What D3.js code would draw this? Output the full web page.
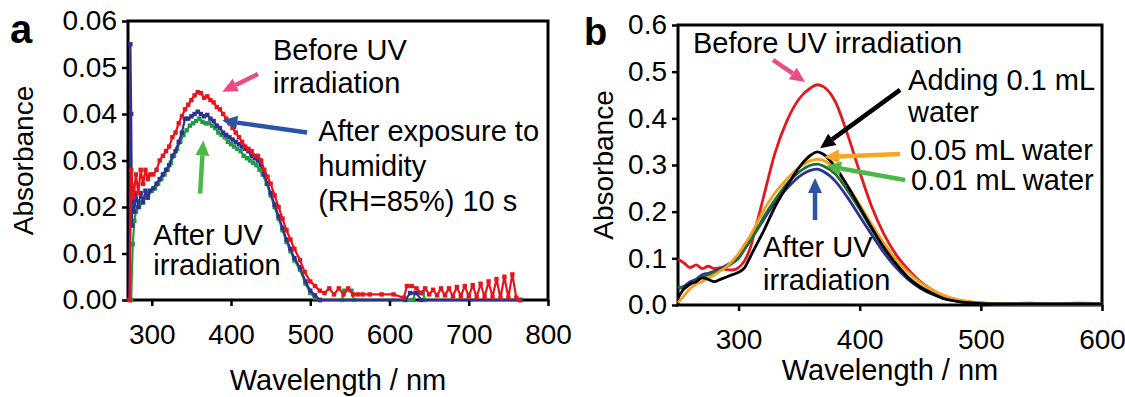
<!DOCTYPE html>
<html>
<head>
<meta charset="utf-8">
<script src="https://cdn.jsdelivr.net/npm/d3@7"></script>
<style>
  body { margin: 0; background: #fff; }
  text { font-family: "Liberation Sans", Arial, sans-serif; }
</style>
</head>
<body>
<svg id="chart" width="1125" height="397"></svg>
<script>
// ---- panel a data (wavelength nm / absorbance) ----
const aRedNm = [272,274,277,280,283,286,289,292,295,298,302,306,310,314,318,322,326,330,334,338,342,346,350,354,358,362,366,370,374,378,382,386,390,394,398,402,406,410,414,418,422,426,430,434,438,442,446,450,455,460,465,470,475,480,487,493,500,506,512,518,524,530,536,542,548,554,560,566,575,590,605,618,622,628,634,640,645,650,655,660,665,670,675,680,685,690,695,700,705,710,715,720,725,730,735,740,745,750,755,760,764];
const aRedAbs = [0,0.028,0.022,0.027,0.023,0.028,0.025,0.028,0.026,0.027,0.027,0.028,0.030,0.031,0.032,0.033,0.035,0.036,0.038,0.0395,0.041,0.042,0.043,0.044,0.0447,0.0445,0.0435,0.0438,0.043,0.0425,0.0415,0.041,0.040,0.039,0.038,0.037,0.036,0.035,0.034,0.033,0.0325,0.032,0.031,0.031,0.030,0.028,0.0265,0.025,0.0225,0.020,0.0175,0.015,0.013,0.011,0.0086,0.006,0.004,0.003,0.002,0.0015,0.0025,0.0012,0.0025,0.0012,0.0025,0.0012,0.0012,0.0012,0.0012,0.0012,0.0012,0.0005,0.003,0.003,0.0025,0.0015,0.0025,0.0012,0.0022,0.001,0.0025,0.001,0.0025,0.0008,0.0028,0.0008,0.003,0.0008,0.0032,0.0006,0.0035,0.0006,0.004,0.0006,0.0045,0.0005,0.005,0.0005,0.0055,0.0005,0];

const aBlueNm = [272,273,274,275,276,278,280,283,286,289,292,295,298,302,306,310,314,318,322,326,330,334,338,342,346,350,354,358,362,366,370,374,378,382,386,390,394,398,402,406,410,414,418,422,426,430,434,438,442,446,450,455,460,465,470,475,480,487,494,500,506,512,620,626,634,640,765];
const aBlueAbs = [0,0.055,0.040,0.016,0.024,0.019,0.023,0.020,0.023,0.021,0.0235,0.022,0.0235,0.024,0.025,0.026,0.027,0.028,0.029,0.031,0.032,0.034,0.036,0.039,0.039,0.0395,0.040,0.0405,0.040,0.0395,0.0398,0.039,0.0385,0.0375,0.037,0.036,0.0355,0.035,0.0345,0.034,0.0335,0.033,0.0325,0.032,0.031,0.0305,0.030,0.029,0.027,0.025,0.023,0.0205,0.018,0.0155,0.013,0.011,0.009,0.007,0.004,0.002,0.001,0,0,0.0015,0.0015,0,0];

const aGreenNm = [274,276,278,280,284,288,292,296,300,304,308,312,316,320,324,328,332,336,340,344,348,352,356,360,364,368,372,376,380,384,388,392,396,400,404,408,412,416,420,424,428,432,436,440,445,450,455,460,465,470,475,480,487,494,500,506,512,540,543,552,555,630,632,642,645,765];
const aGreenAbs = [0,0.012,0.017,0.019,0.020,0.021,0.022,0.023,0.0235,0.024,0.025,0.026,0.027,0.028,0.0295,0.031,0.0325,0.034,0.0355,0.0365,0.0375,0.038,0.0385,0.039,0.0383,0.038,0.038,0.0375,0.037,0.036,0.0355,0.035,0.034,0.0335,0.033,0.0325,0.032,0.031,0.0305,0.030,0.0295,0.029,0.028,0.027,0.025,0.0225,0.020,0.0175,0.015,0.0125,0.0105,0.0085,0.0065,0.0035,0.0015,0.0005,0,0,0.002,0.002,0,0,0.0015,0.0015,0,0];

const aXTicks = [300,400,500,600,700,800];
const aYTicks = [0,0.01,0.02,0.03,0.04,0.05,0.06];

// ---- panel b data ----
const bNm = [250,255,260,265,270,275,280,285,290,295,300,305,310,315,320,330,340,350,360,365,370,380,390,400,410,420,430,440,450,460,470,480,490,500,520,540,560,580,600];
const bBefore = [0.098,0.090,0.080,0.086,0.078,0.083,0.078,0.080,0.076,0.075,0.080,0.095,0.125,0.175,0.225,0.325,0.395,0.442,0.466,0.472,0.468,0.435,0.365,0.285,0.21,0.152,0.108,0.076,0.05,0.032,0.019,0.011,0.007,0.004,0.003,0.002,0.002,0.002,0.002];
const bAfterUV = [0.035,0.040,0.050,0.055,0.065,0.068,0.072,0.078,0.085,0.093,0.105,0.120,0.140,0.160,0.180,0.220,0.250,0.275,0.289,0.291,0.286,0.265,0.230,0.190,0.150,0.112,0.080,0.055,0.036,0.023,0.014,0.009,0.005,0.004,0.003,0.004,0.003,0.004,0.003];
const bWater001 = [0.040,0.035,0.045,0.052,0.060,0.065,0.070,0.075,0.082,0.090,0.100,0.120,0.140,0.160,0.185,0.225,0.260,0.285,0.300,0.302,0.298,0.280,0.245,0.205,0.162,0.122,0.088,0.060,0.040,0.026,0.016,0.010,0.006,0.004,0.003,0.002,0.002,0.002,0.002];
const bWater005 = [0.005,0.020,0.035,0.045,0.050,0.058,0.065,0.073,0.082,0.095,0.110,0.130,0.150,0.175,0.200,0.240,0.270,0.295,0.310,0.312,0.310,0.290,0.255,0.215,0.172,0.133,0.098,0.070,0.048,0.032,0.020,0.012,0.007,0.004,0.002,0.002,0.002,0.002,0.002];
const bWater01 = [0.015,0.035,0.045,0.050,0.058,0.055,0.050,0.055,0.060,0.065,0.070,0.080,0.105,0.130,0.155,0.210,0.255,0.295,0.322,0.328,0.323,0.295,0.255,0.210,0.165,0.123,0.088,0.058,0.038,0.024,0.013,0.008,0.005,0.003,0.002,0.002,0.002,0.002,0.002];

const bXTicks = [300,400,500,600];
const bYTicks = [0,0.1,0.2,0.3,0.4,0.5,0.6];

const svg = d3.select('#chart');

const xA = d3.scaleLinear().domain([270, 800]).range([128, 548]);
const yA = d3.scaleLinear().domain([0, 0.06]).range([300, 21]);
const xB = d3.scaleLinear().domain([250, 600]).range([678, 1102]);
const yB = d3.scaleLinear().domain([0, 0.6]).range([305, 25]);

function arrow(g, x1, y1, x2, y2, color) {
    var ang = Math.atan2(y2 - y1, x2 - x1);
    var hl = 15, hw = 7;
    var bx = x2 - hl * Math.cos(ang), by = y2 - hl * Math.sin(ang);
    g.append('line')
        .attr('x1', x1).attr('y1', y1).attr('x2', bx).attr('y2', by)
        .attr('stroke', color).attr('stroke-width', 4.5);
    g.append('polygon')
        .attr('points', [[x2, y2],
            [bx + hw * Math.sin(ang), by - hw * Math.cos(ang)],
            [bx - hw * Math.sin(ang), by + hw * Math.cos(ang)]].map(p => p.join(',')).join(' '))
        .attr('fill', color);
}

function frame(x, y, xTicks, yTicks, yFmt, titleY, absX) {
    var g = svg.append('g');
    var xr = x.range(), yr = y.range();
    g.append('g')
        .attr('transform', 'translate(0,' + yr[0] + ')')
        .call(d3.axisBottom(x).tickValues(xTicks).tickSize(6).tickSizeOuter(0).tickPadding(18))
        .call(s => s.select('.domain').remove())
        .call(s => s.selectAll('line').attr('stroke-width', 2.5))
        .call(s => s.selectAll('text').attr('font-size', 28).attr('fill', '#000'));
    g.append('g')
        .attr('transform', 'translate(' + xr[0] + ',0)')
        .call(d3.axisLeft(y).tickValues(yTicks).tickFormat(d3.format(yFmt)).tickSize(6).tickSizeOuter(0).tickPadding(5))
        .call(s => s.select('.domain').remove())
        .call(s => s.selectAll('line').attr('stroke-width', 2.5))
        .call(s => s.selectAll('text').attr('font-size', 28).attr('fill', '#000'));
    g.append('rect')
        .attr('x', xr[0]).attr('y', yr[1])
        .attr('width', xr[1] - xr[0]).attr('height', yr[0] - yr[1])
        .attr('fill', 'none').attr('stroke', '#000').attr('stroke-width', 3);
    g.append('text')
        .attr('x', (xr[0] + xr[1]) / 2).attr('y', titleY)
        .attr('text-anchor', 'middle').attr('font-size', 29)
        .text('Wavelength / nm');
    g.append('text')
        .attr('transform', 'translate(' + absX + ',' + ((yr[0] + yr[1]) / 2) + ') rotate(-90)')
        .attr('text-anchor', 'middle').attr('font-size', 28)
        .text('Absorbance');
    return g;
}

function label(g, x, y, lines, nm, abs, dy) {
    lines.forEach((t, i) => {
        g.append('text')
            .attr('x', x(nm)).attr('y', y(abs) + i * dy)
            .attr('font-size', 29).attr('fill', '#000')
            .text(t);
    });
}

// ---- panel a ----
var gA = frame(xA, yA, aXTicks, aYTicks, '.2f', 390, 33);
var lineA = d3.line()
    .x(d => xA(d[0])).y(d => yA(d[1]));
[[aGreenNm, aGreenAbs, '#1f9a48'], [aBlueNm, aBlueAbs, '#2e3192'], [aRedNm, aRedAbs, '#e8141c']]
    .forEach(s => {
        var pts = d3.zip(s[0], s[1]);
        var sg = gA.append('g');
        sg.append('path')
            .datum(pts)
            .attr('fill', 'none').attr('stroke', s[2])
            .attr('stroke-width', 2.2).attr('stroke-linejoin', 'round')
            .attr('d', lineA);
        sg.selectAll('rect')
            .data(pts)
            .join('rect')
            .attr('x', d => xA(d[0]) - 2.2).attr('y', d => yA(d[1]) - 2.2)
            .attr('width', 4.4).attr('height', 4.4)
            .attr('fill', s[2]);
    });

label(gA, xA, yA, ['Before UV', 'irradiation'], 453, 0.0516, 33);
label(gA, xA, yA, ['After exposure to', 'humidity', '(RH=85%) 10 s'], 510, 0.0343, 35);
label(gA, xA, yA, ['After UV', 'irradiation'], 302, 0.0118, 30);
arrow(gA, xA(434), yA(0.0486), xA(389), yA(0.0448), '#ea4b86');
arrow(gA, xA(496), yA(0.036), xA(389), yA(0.0386), '#2c54a4');
arrow(gA, xA(361), yA(0.0229), xA(365), yA(0.0343), '#4db848');

svg.append('text').attr('x', 10).attr('y', 43)
    .attr('font-size', 40).attr('font-weight', 'bold').text('a');

// ---- panel b ----
var gB = frame(xB, yB, bXTicks, bYTicks, '.1f', 380, 613);
var lineB = d3.line().curve(d3.curveMonotoneX)
    .x(d => xB(d[0])).y(d => yB(d[1]));
[[bBefore, '#e3191f'], [bAfterUV, '#2e3192'], [bWater001, '#1e6e34'], [bWater005, '#f5a01f'], [bWater01, '#000']]
    .forEach(s => {
        gB.append('path')
            .datum(d3.zip(bNm, s[0]))
            .attr('fill', 'none').attr('stroke', s[1])
            .attr('stroke-width', 2.8)
            .attr('d', lineB);
    });

label(gB, xB, yB, ['Before UV irradiation'], 262.4, 0.54, 0);
label(gB, xB, yB, ['Adding 0.1 mL', 'water'], 439.9, 0.461, 32);
label(gB, xB, yB, ['0.05 mL water'], 441.6, 0.311, 0);
label(gB, xB, yB, ['0.01 mL water'], 442.4, 0.246, 0);
label(gB, xB, yB, ['After UV', 'irradiation'], 320.2, 0.103, 33);
arrow(gB, xB(328.4), yB(0.525), xB(354.9), yB(0.478), '#ea4b86');
arrow(gB, xB(433.3), yB(0.461), xB(367.3), yB(0.336), '#000');
arrow(gB, xB(433.3), yB(0.3236), xB(370.6), yB(0.317), '#f5a623');
arrow(gB, xB(437.4), yB(0.268), xB(372.2), yB(0.298), '#4db848');
arrow(gB, xB(363.1), yB(0.182), xB(363.1), yB(0.272), '#2c54a4');

svg.append('text').attr('x', 584).attr('y', 45)
    .attr('font-size', 38).attr('font-weight', 'bold').text('b');
</script>
</body>
</html>
